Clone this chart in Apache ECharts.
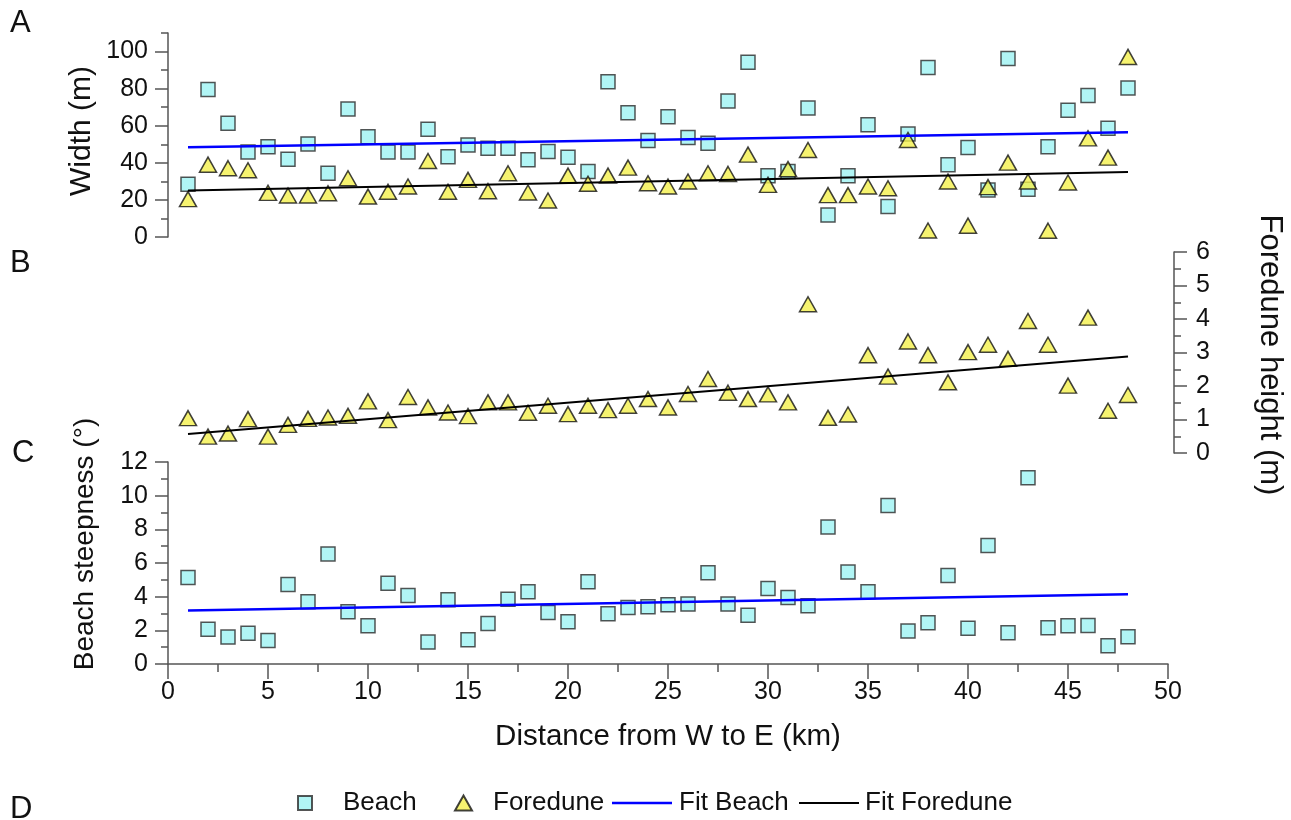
<!DOCTYPE html>
<html><head><meta charset="utf-8">
<script src="https://cdn.jsdelivr.net/npm/echarts@6/dist/echarts.min.js"></script>
<style>html,body{margin:0;padding:0;background:#fff}#c{width:1291px;height:820px}</style>
</head><body><div id="c"></div>
<script>
// ---- data ----
const distance = [1,2,3,4,5,6,7,8,9,10,11,12,13,14,15,16,17,18,19,20,21,22,23,24,25,26,27,28,29,30,31,32,33,34,35,36,37,38,39,40,41,42,43,44,45,46,47,48];
const beachWidth = [28.5,79.6,61.3,45.9,48.7,41.9,50.2,34.4,69.0,54.1,45.9,45.9,58.1,43.3,49.6,47.8,47.8,41.6,46.1,43.0,35.3,83.7,67.0,52.0,64.8,53.6,50.5,73.3,94.2,33.0,35.3,69.5,11.8,33.0,60.5,16.5,55.5,91.4,39.0,48.2,25.4,96.2,25.8,48.7,68.4,76.3,58.6,80.3];
const foreduneWidth = [20.4,39.0,37.1,36.0,23.8,22.4,22.4,23.6,31.7,21.8,24.4,27.2,41.0,24.4,30.8,24.7,34.4,24.0,19.7,33.1,28.7,33.1,37.4,29.0,27.2,29.9,34.4,34.0,44.4,28.1,36.6,46.9,22.6,22.6,27.2,26.3,52.3,3.5,29.9,6.1,26.9,40.1,29.9,3.4,29.4,53.2,42.8,97.1];
const foreduneHeight = [1.04,0.49,0.58,1.01,0.49,0.84,1.02,1.06,1.11,1.54,0.98,1.67,1.36,1.21,1.10,1.51,1.51,1.20,1.41,1.16,1.41,1.28,1.41,1.61,1.36,1.76,2.21,1.80,1.61,1.75,1.51,4.44,1.05,1.15,2.92,2.28,3.33,2.92,2.11,3.01,3.23,2.81,3.94,3.23,2.01,4.04,1.26,1.73];
const beachSteepness = [5.14,2.06,1.60,1.82,1.40,4.73,3.70,6.54,3.10,2.27,4.79,4.07,1.30,3.82,1.44,2.41,3.84,4.29,3.06,2.51,4.88,2.98,3.36,3.40,3.52,3.56,5.42,3.56,2.89,4.49,3.95,3.46,8.14,5.46,4.29,9.41,1.96,2.45,5.26,2.12,7.04,1.86,11.07,2.15,2.27,2.29,1.09,1.62];
const fitX = [1, 48];
const fitBeachWidth = [48.4, 56.5];
const fitForeduneWidth = [25.1, 35.0];
const fitForeduneHeight = [0.57, 2.88];
const fitBeachSteepness = [3.18, 4.15];
const widthMajorTicks = [0, 20, 40, 60, 80, 100];
const widthMinorTicks = [10, 30, 50, 70, 90, 110];

// ---- chart ----
const FONT = '"Liberation Sans", Arial, sans-serif';
const AX = '#555';
const TXT = '#111';
const pts = ys => distance.map((x, i) => [x, ys[i]]);
const fit = ys => fitX.map((x, i) => [x, ys[i]]);
const sqStyle = {color: '#9ef3f3', borderColor: '#2b2b2b', borderWidth: 1.5};
const triStyle = {color: '#f4f04c', borderColor: '#111', borderWidth: 1.5};
const lineAx = {show: true, onZero: false, lineStyle: {color: AX, width: 1.5}};
const tickMaj = {show: true, length: 13, lineStyle: {color: AX, width: 1.5}};
const tickMin = {show: true, splitNumber: 2, length: 7, lineStyle: {color: AX, width: 1.5}};
const lbl = {fontSize: 25, fontFamily: FONT, color: TXT, margin: 20};
const legendText = pad => ({fontSize: 26, fontFamily: FONT, color: TXT, padding: [0, 0, 0, pad]});

const chart = echarts.init(document.getElementById('c'));
const option = {
  animation: false,
  grid: [
    {left: 168, top: 33, width: 1000, height: 204},
    {left: 168, top: 252, width: 1000, height: 201},
    {left: 168, top: 462, width: 1000, height: 202},
    {left: 168, top: 33, width: 1000, height: 204}
  ],
  xAxis: [
    {gridIndex: 0, type: 'value', min: 0, max: 50, show: false},
    {gridIndex: 1, type: 'value', min: 0, max: 50, show: false},
    {gridIndex: 2, type: 'value', min: 0, max: 50, interval: 5,
      axisLine: lineAx, axisTick: Object.assign({}, tickMaj, {length: 15}),
      minorTick: Object.assign({}, tickMin, {length: 8}), splitLine: {show: false},
      axisLabel: Object.assign({}, lbl, {margin: 16}),
      name: 'Distance from W to E (km)', nameLocation: 'middle', nameGap: 58,
      nameTextStyle: {fontSize: 29.5, fontFamily: FONT, color: TXT}},
    {gridIndex: 3, type: 'value', min: 0, max: 50, show: false}
  ],
  yAxis: [
    {gridIndex: 0, type: 'value', min: 0, max: 110, position: 'left',
      axisLine: lineAx, axisTick: Object.assign({}, tickMaj, {customValues: widthMajorTicks}),
      axisLabel: Object.assign({}, lbl, {customValues: widthMajorTicks}), splitLine: {show: false}},
    {gridIndex: 1, type: 'value', min: 0, max: 6, interval: 1, position: 'right', offset: 6,
      axisLine: lineAx, axisTick: tickMaj, minorTick: tickMin,
      axisLabel: Object.assign({}, lbl, {margin: 22}), splitLine: {show: false}},
    {gridIndex: 2, type: 'value', min: 0, max: 12, interval: 2, position: 'left',
      axisLine: lineAx, axisTick: tickMaj, minorTick: tickMin, axisLabel: lbl, splitLine: {show: false}},
    {gridIndex: 3, type: 'value', min: 0, max: 110, position: 'left',
      axisLine: {show: false, onZero: false}, axisTick: Object.assign({}, tickMaj, {length: 7, customValues: widthMinorTicks}),
      axisLabel: {show: false}, splitLine: {show: false}}
  ],
  legend: [
    {left: 292, top: 785, itemWidth: 14, itemHeight: 14, textStyle: legendText(26),
      data: [{name: 'Beach', icon: 'rect'}]},
    {left: 449, top: 785, itemWidth: 17, itemHeight: 15, textStyle: legendText(16),
      data: [{name: 'Foredune', icon: 'triangle'}]},
    {left: 607, top: 785, itemWidth: 60, itemHeight: 14, textStyle: legendText(2),
      data: [{name: 'Fit Beach', icon: 'path://M0,0H60V2.5H0Z', itemStyle: {color: '#0000ff', borderWidth: 0}}]},
    {left: 794, top: 785, itemWidth: 60, itemHeight: 14, textStyle: legendText(1),
      data: [{name: 'Fit Foredune', icon: 'path://M0,0H60V2.2H0Z', itemStyle: {color: '#000', borderWidth: 0}}]}
  ],
  graphic: [
    {type: 'text', left: 10, top: 8, style: {text: 'A', font: '31px ' + FONT, fill: TXT}},
    {type: 'text', left: 10, top: 248, style: {text: 'B', font: '31px ' + FONT, fill: TXT}},
    {type: 'text', left: 12, top: 438, style: {text: 'C', font: '31px ' + FONT, fill: TXT}},
    {type: 'text', left: 10, top: 794, style: {text: 'D', font: '31px ' + FONT, fill: TXT}},
    {type: 'text', x: 82, y: 131, rotation: Math.PI / 2,
      style: {text: 'Width (m)', font: '30px ' + FONT, fill: TXT, align: 'center', verticalAlign: 'middle'}},
    {type: 'text', x: 85, y: 544, rotation: Math.PI / 2,
      style: {text: 'Beach steepness (°)', font: '28px ' + FONT, fill: TXT, align: 'center', verticalAlign: 'middle'}},
    {type: 'text', x: 1270, y: 355, rotation: -Math.PI / 2,
      style: {text: 'Foredune height (m)', font: '31px ' + FONT, fill: TXT, align: 'center', verticalAlign: 'middle'}}
  ],
  series: [
    {name: 'Beach', type: 'scatter', xAxisIndex: 0, yAxisIndex: 0, symbol: 'rect', symbolSize: 14,
      itemStyle: sqStyle, data: pts(beachWidth), z: 2},
    {name: 'Foredune', type: 'scatter', xAxisIndex: 0, yAxisIndex: 0, symbol: 'triangle', symbolSize: [17, 15],
      itemStyle: triStyle, data: pts(foreduneWidth), z: 3},
    {name: 'Fit Beach', type: 'line', xAxisIndex: 0, yAxisIndex: 0, symbol: 'none',
      lineStyle: {color: '#0000ff', width: 2.5}, itemStyle: {color: '#0000ff'}, data: fit(fitBeachWidth), z: 4},
    {name: 'Fit Foredune', type: 'line', xAxisIndex: 0, yAxisIndex: 0, symbol: 'none',
      lineStyle: {color: '#000', width: 2}, itemStyle: {color: '#000'}, data: fit(fitForeduneWidth), z: 4},
    {name: 'Foredune', type: 'scatter', xAxisIndex: 1, yAxisIndex: 1, symbol: 'triangle', symbolSize: [17, 15],
      itemStyle: triStyle, data: pts(foreduneHeight), z: 3},
    {name: 'Fit Foredune', type: 'line', xAxisIndex: 1, yAxisIndex: 1, symbol: 'none',
      lineStyle: {color: '#000', width: 2}, itemStyle: {color: '#000'}, data: fit(fitForeduneHeight), z: 4},
    {name: 'Beach', type: 'scatter', xAxisIndex: 2, yAxisIndex: 2, symbol: 'rect', symbolSize: 14,
      itemStyle: sqStyle, data: pts(beachSteepness), z: 2},
    {name: 'Fit Beach', type: 'line', xAxisIndex: 2, yAxisIndex: 2, symbol: 'none',
      lineStyle: {color: '#0000ff', width: 2.5}, itemStyle: {color: '#0000ff'}, data: fit(fitBeachSteepness), z: 4}
  ]
};
chart.setOption(option);
</script>
</body></html>
